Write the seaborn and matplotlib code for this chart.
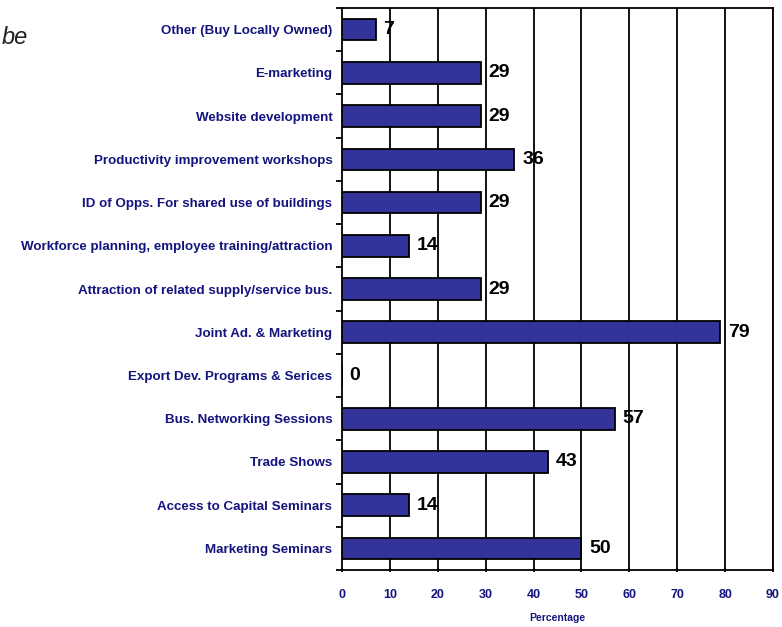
import numpy as np
import pandas as pd
import matplotlib
matplotlib.use("Agg")
import matplotlib.pyplot as plt
import seaborn as sns

# Program interest (percentage of respondents), listed top to bottom
categories = [
    "Other (Buy Locally Owned)",
    "E-marketing",
    "Website development",
    "Productivity improvement workshops",
    "ID of Opps. For shared use of buildings",
    "Workforce planning, employee training/attraction",
    "Attraction of related supply/service bus.",
    "Joint Ad. & Marketing",
    "Export Dev. Programs & Serices",
    "Bus. Networking Sessions",
    "Trade Shows",
    "Access to Capital Seminars",
    "Marketing Seminars",
]
values = [7, 29, 29, 36, 29, 14, 29, 79, 0, 57, 43, 14, 50]
x_ticks = [0, 10, 20, 30, 40, 50, 60, 70, 80, 90]

df = pd.DataFrame({"program": categories, "pct": values})

sns.set_theme(style="white")
plt.rcParams["font.family"] = ["Liberation Sans", "DejaVu Sans"]

navy = "#14147f"
bar_color = "#333399"

fig = plt.figure(figsize=(7.82, 6.27), dpi=100)
ax = fig.add_axes([342 / 782, 1 - 570 / 627, (773 - 342) / 782, (570 - 8) / 627])

sns.barplot(data=df, x="pct", y="program", orient="h", color=bar_color,
            width=0.5, edgecolor="black", linewidth=1.3, saturation=1,
            ax=ax, zorder=3)

ax.set_xlim(0, 90)
ax.set_ylim(len(categories) - 0.5, -0.5)
ax.set_xticks(x_ticks)
ax.set_xticklabels([str(t) for t in x_ticks], fontsize=9, fontweight="bold",
                   color=navy)
ax.grid(False)
for t in x_ticks[1:]:
    ax.axvline(t, color="black", lw=1.3, zorder=1)

# y: category labels without ticks, small tick marks at category boundaries
ax.set_yticks(range(len(categories)))
ax.set_yticklabels(categories, fontsize=9.6, fontweight="bold", color=navy)
ax.tick_params(axis="y", which="major", length=0, pad=7)
ax.set_yticks(np.arange(-0.5, len(categories), 1.0), minor=True)
ax.tick_params(axis="y", which="minor", length=4, width=1.3, color="black",
               direction="out", left=True)
ax.tick_params(axis="x", which="major", length=3, width=1.3, color="black",
               direction="inout", bottom=True, pad=12)

for side in ["left", "bottom", "right", "top"]:
    ax.spines[side].set_visible(True)
    ax.spines[side].set_color("black")
    ax.spines[side].set_linewidth(1.3)

ax.set_ylabel("")
ax.set_xlabel("Percentage", fontsize=7.5, fontweight="bold", color=navy,
              labelpad=9)

# value labels next to each bar
for i, v in enumerate(values):
    ax.text(v + 1.6, i, str(v), ha="left", va="center", fontsize=14,
            fontweight="bold", color="black", zorder=4)

fig.text(0.002, 1 - 38 / 627, "be", fontsize=17, style="italic",
         color="#222222", ha="left", va="center")

fig.savefig("out.png", dpi=100)
